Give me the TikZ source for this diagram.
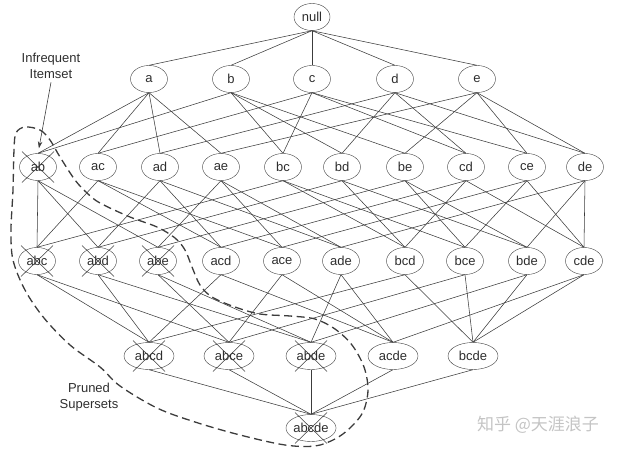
\documentclass[tikz,border=0pt]{standalone}
\usepackage{fontspec}
\setmainfont{Liberation Sans}
\newfontfamily\cjk{Noto Sans CJK SC}
\usepackage{xcolor}
\definecolor{LineGray}{HTML}{3C3C3C}
\definecolor{TextGray}{HTML}{2E2E2E}
\definecolor{MarkGray}{HTML}{C4C4C4}
\usetikzlibrary{shapes.geometric,arrows.meta}

\tikzset{
  item/.style={draw=LineGray,ellipse,inner sep=0pt,minimum width=37pt,minimum height=27pt,text=TextGray},
  bigitem/.style={item,minimum width=50pt},
  edge/.style={LineGray,line width=0.55pt},
  prune/.style={LineGray,line width=1.3pt,dash pattern=on 8pt off 4.5pt},
}

\begin{document}
\begin{tikzpicture}[x=1pt,y=-1pt,font=\fontsize{13}{16}\selectfont]
\useasboundingbox (0,0) rectangle (622,452);
% lattice levels
\node[item,minimum width=36pt] (null) at (312,17) {null};
\foreach \x/\s in {149/a,231/b,312/c,395/d,477/e}
  \node[item] (\s) at (\x,79) {\s};
\foreach \x/\s in {38/ab,98/ac,160/ad,221/ae,283/bc,342/bd,405/be,466/cd,527/ce,585/de}
  \node[item] (\s) at (\x,167) {\s};
\foreach \x/\s in {37/abc,98/abd,158/abe,221/acd,282/ace,341/ade,405/bcd,465/bce,527/bde,584/cde}
  \node[item] (\s) at (\x,261) {\s};
\foreach \x/\s in {149/abcd,229/abce,311/abde,393/acde,473/bcde}
  \node[bigitem] (\s) at (\x,356) {\s};
\node[bigitem] (abcde) at (311,428) {abcde};

% subset edges
\foreach \p/\cs in {null/{a,b,c,d,e},
    a/{ab,ac,ad,ae}, b/{ab,bc,bd,be}, c/{ac,bc,cd,ce}, d/{ad,bd,cd,de}, e/{ae,be,ce,de},
    ab/{abc,abd,abe}, ac/{abc,acd,ace}, ad/{abd,acd,ade}, ae/{abe,ace,ade}, bc/{abc,bcd,bce},
    bd/{abd,bcd,bde}, be/{abe,bce,bde}, cd/{acd,bcd,cde}, ce/{ace,bce,cde}, de/{ade,bde,cde},
    abc/{abcd,abce}, abd/{abcd,abde}, abe/{abce,abde}, acd/{abcd,acde}, ace/{abce,acde},
    ade/{abde,acde}, bcd/{abcd,bcde}, bce/{abce,bcde}, bde/{abde,bcde}, cde/{acde,bcde},
    abcd/{abcde}, abce/{abcde}, abde/{abcde}, acde/{abcde}, bcde/{abcde}}
  \foreach \c in \cs
    \draw[edge] (\p.south) -- (\c.north);

% crossed out itemsets
\foreach \s in {ab,abc,abd,abe,abcd,abce,abde,abcde}
  \draw[edge] (\s.center) +(-16,-15.5) -- +(16,15.5) +(-16,15.5) -- +(16,-15.5);

% pruned region
\draw[prune] plot[smooth cycle,tension=0.55] coordinates {
  (25,127) (40,130) (50,140) (60,157) (75,180) (87,193) (100,203) (130,217)
  (157,227) (175,238) (185,250) (192,267) (200,285) (212,297) (235,307) (260,314)
  (290,316) (315,319) (335,329) (352,345) (364,367) (368,390) (363,412) (350,428)
  (335,439) (315,446) (285,445) (240,435) (195,422) (157,408) (120,386) (100,367)
  (70,345) (44,318) (25,290) (13,260) (11,230) (13,190) (14,150) (16,133)};

% annotations
\node[align=center,text=TextGray] (infreq) at (51,66) {Infrequent\\Itemset};
\draw[LineGray,line width=0.6pt,-{Stealth[length=7pt,width=4.5pt]},shorten >=5pt] (infreq.south) -- (ab.north);
\node[align=center,text=TextGray] (pruned) at (89,397) {Pruned\\Supersets};
\node[text=MarkGray,font=\cjk\fontsize{17}{20}\selectfont] (mark) at (538,425) {知乎 @天涯浪子};
\end{tikzpicture}
\end{document}
